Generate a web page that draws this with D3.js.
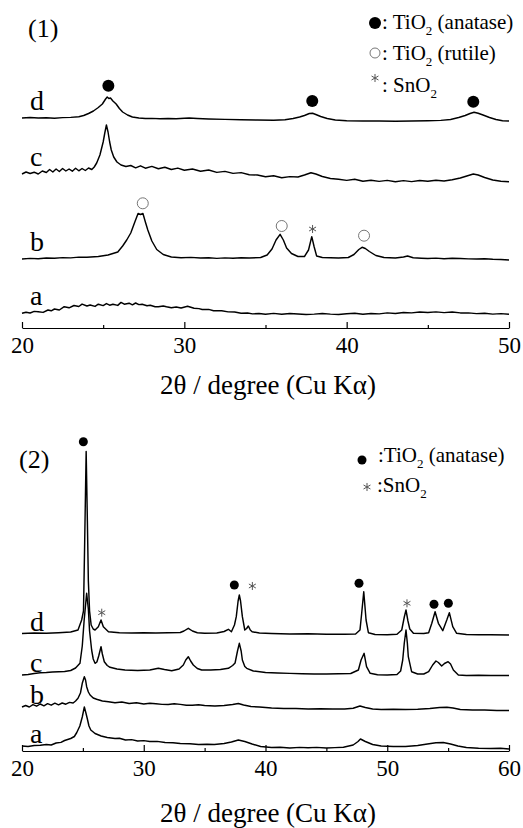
<!DOCTYPE html>
<html>
<head>
<meta charset="utf-8">
<script src="https://cdn.jsdelivr.net/npm/d3@7"></script>
<style>
body { margin: 0; background: #fff; }
</style>
</head>
<body>
<div id="svg-area"></div>
<script>
// sample labels, bottom to top
const sampleNames = ["a", "b", "c", "d"];

// ---- panel (1): 2theta 20-50, stacked intensity (a.u.) ----
const p1Ticks = [20, 30, 40, 50];
const p1Minor = [25, 35, 45];

const p1_a = [[20,14.7],[20.25,15.8],[20.5,15],[20.75,16.6],[21,16.2],[21.3,15.6],[21.6,18],[21.8,17.2],[22,19],[22.3,18],[22.6,21.3],[22.9,20.2],[23.2,22.5],[23.5,21.5],[23.7,23.9],[24,22],[24.2,23],[24.5,21.6],[24.7,23.8],[25,22.4],[25.2,24.4],[25.4,22.8],[25.6,23.8],[25.9,22.6],[26.1,25.6],[26.3,23.8],[26.6,24.8],[26.8,23.2],[27,25],[27.2,23.4],[27.4,23.8],[27.7,22.2],[27.9,22.8],[28.2,21.2],[28.4,21.2],[28.7,22],[28.9,21.2],[29.2,20.2],[29.5,21],[29.8,20],[30.2,21.7],[30.6,19.8],[30.9,19.4],[31.1,18.5],[31.5,18.6],[31.8,17.3],[32.3,17.2],[32.7,16.1],[33.1,16],[33.5,14.8],[33.9,15],[34.2,14.1],[34.6,14.5],[35,13.8],[35.5,14.6],[36,13.7],[36.5,14.5],[37,14],[37.5,13.5],[38,13.9],[38.5,14.5],[39,13.9],[39.5,13.5],[40,14.3],[40.5,14.7],[41,13.7],[41.5,14.5],[42,14.1],[42.5,15.1],[43,14.5],[43.5,15.5],[44,15.1],[44.5,16],[45,15.5],[45.5,16.1],[46,15.4],[46.5,16],[47,15.1],[47.5,15.1],[48,14.4],[48.5,14.7],[49,13.9],[49.5,14.4],[50,13.7]];

const p1_b = [[20,69],[20.5,69.6],[21,69.3],[21.5,70],[22,69.8],[22.5,70.4],[23,70.1],[23.5,70.9],[24,70.8],[24.7,71.5],[25.3,73],[25.9,76],[26.2,82],[26.45,88],[26.7,95],[26.95,106],[27.15,114.5],[27.3,113.5],[27.45,114.5],[27.6,106],[27.75,98],[28,87],[28.3,78.5],[28.7,73.5],[29.2,71],[29.8,70.2],[30.4,70.6],[31,70],[31.5,70.3],[32,69.6],[32.5,70.1],[33,69.8],[33.5,70.3],[34,70],[34.7,70.5],[35.1,73],[35.4,79],[35.65,88],[35.9,93.7],[36.1,88],[36.3,80],[36.6,74.5],[37,71.5],[37.4,71.5],[37.65,78],[37.85,91.3],[38,81],[38.15,72],[38.5,70.5],[39,70.2],[39.5,70],[40.1,70.5],[40.45,73.5],[40.75,78.5],[40.95,80.7],[41.15,79.5],[41.4,76.5],[41.8,72.5],[42.3,70.5],[43,70],[43.5,71],[43.75,72],[44.1,70.2],[44.6,69.8],[45,69.5],[45.5,69.9],[46,69.2],[46.5,69.7],[47,69.5],[47.5,69.1],[48,69],[48.5,69.3],[49,68.7],[49.5,68.5],[50,68]];

const p1_c = [[20,154],[20.25,156],[20.5,154.5],[20.75,155.8],[21,154],[21.25,157],[21.5,155.5],[21.7,158.5],[21.9,156],[22.1,159],[22.3,156.5],[22.5,159.5],[22.7,157],[22.9,159],[23.1,156.8],[23.3,159.8],[23.5,157.2],[23.7,159.5],[23.9,157.5],[24.1,160],[24.3,158.5],[24.45,161],[24.6,165],[24.8,173],[25,186],[25.1,195],[25.2,203],[25.3,196],[25.4,186],[25.5,178],[25.65,171],[25.85,166],[26.1,163],[26.4,161.5],[26.7,162.5],[27,160.2],[27.3,162.2],[27.6,159.8],[28,161.6],[28.4,159.2],[28.8,160.8],[29.2,158.5],[29.6,159.9],[30,157.8],[30.5,159],[31,156.8],[31.5,158],[32,155.6],[32.5,156.6],[33,154.6],[33.5,155.4],[34,153.3],[34.5,153],[35,151.3],[35.5,152.2],[36,150.3],[36.5,151.4],[37,151],[37.4,153],[37.8,155.3],[38.1,154],[38.5,151.5],[39,149.5],[39.5,148.8],[40,147.6],[40.5,148.7],[41,146.8],[41.5,147.8],[42,146.6],[42.5,147.6],[43,146.3],[43.5,147.4],[44,146.4],[44.5,147.5],[45,146.8],[45.5,147.8],[46,147],[46.5,148.2],[47,150],[47.4,152],[47.8,154],[48.1,153],[48.5,150.5],[49,148],[49.5,146.8],[50,146.3]];

const p1_d = [[20,210],[20.5,210.5],[21,210],[21.5,210.3],[22,209.8],[22.5,210.4],[23,210.6],[23.5,211.2],[23.8,212.5],[24.1,214.5],[24.4,217],[24.7,220.5],[24.95,224],[25.15,229],[25.25,231],[25.35,229.5],[25.45,230],[25.6,227],[25.8,224],[26,219.5],[26.2,216],[26.5,213],[26.8,211],[27.2,210],[27.6,209.5],[28,209.6],[28.5,209.3],[29,209.5],[29.5,209.2],[30,209.8],[30.3,210],[30.8,209.5],[31.5,209],[32.5,208.6],[33.5,208.3],[34.5,208],[35.5,207.8],[36.2,208.3],[36.7,209.5],[37.1,211],[37.4,212.5],[37.7,214.5],[37.9,214.7],[38.1,213.5],[38.4,211.5],[38.8,209.5],[39.3,208],[40,207.3],[41,207],[42,207],[43,206.8],[44,207],[45,207.2],[45.8,207.6],[46.4,208.5],[46.9,210.5],[47.3,212.5],[47.6,214.5],[47.85,215.7],[48.1,214.8],[48.4,213],[48.8,210.5],[49.2,208.5],[49.6,207.3],[50,207]];

// phase markers: [2theta, intensity]
const p1Anatase = [[25.32,242.3],[37.88,227],[47.8,226.3]];
const p1Rutile = [[27.44,124.7],[36.0,102],[41.07,92.3]];
const p1SnO2 = [[37.9,99]];

// ---- panel (2): 2theta 20-60 ----
const p2Ticks = [20, 30, 40, 50, 60];
const p2Minor = [25, 35, 45, 55];

const p2_a = [[20,5],[20.5,4.5],[21,5.5],[21.5,5.8],[22,6.5],[22.4,6],[22.8,8],[23.2,8.6],[23.5,10.5],[24,12.5],[24.3,14.5],[24.5,18.5],[24.75,25],[24.95,34],[25.12,44],[25.25,38],[25.35,33],[25.5,25],[25.65,21],[26,17.5],[26.5,15],[27,13.5],[27.64,12.5],[28,12.8],[28.5,11],[29,11.4],[29.5,10],[30,10.4],[30.5,9.5],[31.1,9.6],[31.75,8.5],[32.4,8.2],[33,7.5],[33.8,7.2],[34.5,6.5],[35.2,6.8],[35.8,6.5],[36.6,7.5],[37.2,9],[37.77,11],[38.3,9.5],[38.9,7],[39.6,4.5],[40.5,3.5],[41.2,3.8],[42,3],[42.8,3.6],[43.5,3.2],[44.2,3.6],[45,3],[45.7,3.4],[46.4,3.8],[47.2,6],[47.6,9.5],[47.8,12],[48.2,9.5],[48.8,6.5],[49.5,5],[50.5,4.5],[51.5,4.5],[52.5,5.5],[53.3,7],[54,8.3],[54.6,8.5],[55.2,7],[55.8,5],[56.5,3.5],[57.5,2.8],[58.5,2.5],[59.3,2.8],[60,2]];

const p2_b = [[20,44],[20.3,45.5],[20.6,44],[20.9,46.3],[21.2,44.8],[21.5,47],[21.8,45.2],[22.1,47.3],[22.4,45.8],[22.7,47.8],[23,46.2],[23.3,48],[23.6,46.8],[23.9,48.6],[24.2,48],[24.4,50],[24.6,52.7],[24.8,58],[24.95,67.7],[25.12,74.3],[25.22,71],[25.31,64.3],[25.45,59],[25.59,56],[25.85,53],[26.13,51.7],[26.6,50],[27.1,49.3],[27.64,48.3],[28.2,49],[28.8,47.5],[29.4,48.3],[30,47],[30.5,47.8],[31,47.2],[31.5,46.6],[32,46.5],[32.5,47.2],[33,46.6],[33.5,45.8],[34,45.8],[34.5,46.2],[35,45.5],[35.85,45],[36.6,45.5],[37.3,46.5],[37.77,47.5],[38.2,46],[38.8,44.5],[39.5,44],[40.5,43],[41.5,42.5],[42.5,42.5],[43.5,42],[44.5,42.3],[45.5,42],[46.5,42],[47.2,42.8],[47.76,45],[48.2,43.5],[48.8,42],[49.5,41.5],[50.5,41.8],[51.5,41.5],[52.5,41.8],[53.5,42.5],[54.3,43.5],[54.9,43.8],[55.4,43],[56,41.5],[57,41],[58,41],[59,40.5],[60,40.5]];

const p2_c = [[20,76],[20.5,76.5],[21,77.5],[21.5,78.2],[22,78.5],[22.5,79],[23,79.3],[23.5,79.5],[24,80.5],[24.4,83],[24.76,87.7],[24.95,105],[25.1,130],[25.31,157.7],[25.45,142],[25.55,120],[25.72,101],[25.85,92],[26,87.7],[26.15,89],[26.3,95],[26.49,104.3],[26.6,97],[26.76,89.3],[27,85.5],[27.23,83.7],[27.8,82],[28.46,81],[29.5,80.5],[30.5,81],[31.2,82.7],[31.7,81.5],[32.3,80.3],[32.9,82],[33.25,86],[33.45,91],[33.66,94.3],[33.85,90],[34.07,86],[34.4,82.5],[34.76,81],[35.5,81],[36.3,81.5],[36.95,82.7],[37.3,85.5],[37.5,88],[37.7,100],[37.85,107.7],[38,100],[38.1,91],[38.3,84.5],[38.46,82.7],[39,80],[40,78.5],[41,78],[42,77.6],[43,77.3],[44,77],[45,77],[46,77.2],[47,77.5],[47.63,81],[47.85,91],[48.1,97.7],[48.3,84.3],[48.6,77.7],[49.2,76.3],[50,76],[50.8,76.5],[51.1,80],[51.27,91],[51.4,108],[51.54,121],[51.65,108],[51.73,94.3],[52,79.3],[52.5,77],[53,77],[53.4,79.3],[53.73,86],[54,90],[54.2,88.5],[54.47,85],[54.7,87.5],[55,89.3],[55.2,87],[55.43,81],[55.84,76],[56.5,75.5],[57.5,75.8],[58.5,75.5],[60,75.5]];

const p2_d = [[20,117.5],[21,118],[22,117.7],[23,118.3],[24,119],[24.6,121],[24.9,131],[25.05,140],[25.15,210],[25.27,299.5],[25.37,230],[25.45,170],[25.55,140],[25.68,126],[25.85,122],[26,121],[26.27,124.3],[26.49,131],[26.68,124.3],[27.1,119.3],[28,118.3],[29,118],[30,118.3],[31,118],[32,118.2],[33,118.5],[33.3,120],[33.66,122.7],[34,120],[34.4,118.3],[35,117.7],[36,118],[36.6,119.5],[36.95,121.7],[37.2,119.3],[37.45,126],[37.6,134.3],[37.75,150],[37.85,156],[37.95,150],[38.1,134.3],[38.3,121],[38.45,122.5],[38.59,125],[38.75,121],[38.9,119.3],[39.5,118],[40.5,117.5],[42,117],[43.5,117.2],[45,116.8],[46.5,116.7],[47.4,117],[47.76,121],[47.9,137.7],[48.07,159.3],[48.26,131],[48.45,118.3],[49,116.5],[50,116.2],[50.8,116.8],[51.19,121],[51.4,134],[51.54,141],[51.7,130],[51.85,122],[52.15,117.7],[53,117.5],[53.4,118.3],[53.66,127.7],[53.93,139.3],[54.2,127.7],[54.56,120.3],[54.89,131],[55.1,138.3],[55.38,124.3],[55.7,117.7],[56.5,116.5],[57.5,116.3],[58.5,116.2],[60,116]];

const p2Anatase = [[25.04,309.3],[37.44,166],[47.68,167.7],[53.84,146.7],[55.02,147.7]];
const p2SnO2 = [[26.55,138.3],[38.92,165],[51.62,147.7]];

const svgWidth = 523
const svgHeight = 828
const serif = '"Liberation Serif"'

let svg = d3.select("#svg-area")
    .append("svg")
    .attr("width", svgWidth)
    .attr("height", svgHeight)
    .style("font-family", serif)

// text with a subscript 2 in the middle
function subText(g, x, y, size, before, after) {
    let t = g.append("text")
        .attr("x", x)
        .attr("y", y)
        .attr("font-size", size)
        .style("font-family", serif)
    t.append("tspan").text(before)
    t.append("tspan").attr("dy", 6).attr("font-size", size * 0.62).text("2")
    t.append("tspan").attr("dy", -6).text(after)
}

function drawPanel(p) {
    let x = d3.scaleLinear().domain(p.domain).range([22, 509])
    let y = d3.scaleLinear().domain([0, 320]).range([p.axisY, p.axisY - 320])
    let g = svg.append("g")

    // axis, ticks point up
    g.append("g")
        .attr("transform", `translate(0,${p.axisY})`)
        .call(d3.axisBottom(x).tickValues(p.ticks).tickSize(-6).tickSizeOuter(0).tickPadding(9))
        .call(a => a.selectAll("text").attr("font-size", 23).style("font-family", serif))
        .call(a => a.selectAll("line,path").attr("stroke", "#000").attr("stroke-width", 1.2))
    g.append("g")
        .attr("transform", `translate(0,${p.axisY})`)
        .call(d3.axisBottom(x).tickValues(p.minor).tickSize(-3).tickFormat(""))
        .call(a => a.select(".domain").remove())
        .call(a => a.selectAll("line").attr("stroke", "#000").attr("stroke-width", 1.2))

    let line = d3.line().x(d => x(d[0])).y(d => y(d[1]))
    p.traces.forEach((tr, i) => {
        g.append("path")
            .datum(tr)
            .attr("fill", "none")
            .attr("stroke", "#000")
            .attr("stroke-width", 1.45)
            .attr("stroke-linejoin", "round")
            .attr("d", line)
        g.append("text")
            .attr("x", 30)
            .attr("y", y(tr[0][1]) - p.labelGap)
            .attr("font-size", p.labelSize)
            .style("font-family", serif)
            .text(sampleNames[i])
    })

    g.selectAll("circle.ana")
        .data(p.anatase)
        .enter()
        .append("circle")
        .attr("cx", d => x(d[0]))
        .attr("cy", d => y(d[1]))
        .attr("r", p.dot)
        .attr("fill", "#000")
    g.selectAll("circle.rut")
        .data(p.rutile)
        .enter()
        .append("circle")
        .attr("cx", d => x(d[0]))
        .attr("cy", d => y(d[1]))
        .attr("r", 5.5)
        .attr("fill", "#fff")
        .attr("stroke", "#777")
        .attr("stroke-width", 1)
    g.selectAll("path.sn")
        .data(p.sno2)
        .enter()
        .append("path")
        .attr("transform", d => `translate(${x(d[0])},${y(d[1])})`)
        .attr("d", d3.symbol(d3.symbolAsterisk).size(45))
        .attr("stroke", "#555")
        .attr("stroke-width", 1)

    g.append("text")
        .attr("x", p.titleX)
        .attr("y", p.titleY)
        .attr("font-size", 26)
        .style("font-family", serif)
        .text(p.title)
    g.append("text")
        .attr("x", 268)
        .attr("y", p.xlabelY)
        .attr("text-anchor", "middle")
        .attr("font-size", 27)
        .style("font-family", serif)
        .text("2θ / degree (Cu Kα)")
    return g
}

let g1 = drawPanel({
    domain: [20, 50], ticks: p1Ticks, minor: p1Minor, axisY: 328,
    traces: [p1_a, p1_b, p1_c, p1_d], labelGap: 8, labelSize: 28,
    anatase: p1Anatase, rutile: p1Rutile, sno2: p1SnO2, dot: 6,
    title: "(1)", titleX: 28, titleY: 37, xlabelY: 394
})

let g2 = drawPanel({
    domain: [20, 60], ticks: p2Ticks, minor: p2Minor, axisY: 751,
    traces: [p2_a, p2_b, p2_c, p2_d], labelGap: 3, labelSize: 28,
    anatase: p2Anatase, rutile: [], sno2: p2SnO2, dot: 4.5,
    title: "(2)", titleX: 19, titleY: 468, xlabelY: 822
})

// legend (1)
g1.append("circle").attr("cx", 375).attr("cy", 23).attr("r", 6).attr("fill", "#000")
subText(g1, 382, 29, 21, ": TiO", " (anatase)")
g1.append("circle").attr("cx", 375).attr("cy", 53).attr("r", 5).attr("fill", "#fff").attr("stroke", "#777")
subText(g1, 382, 60, 21, ": TiO", " (rutile)")
g1.append("path").attr("transform", "translate(375,78)")
    .attr("d", d3.symbol(d3.symbolAsterisk).size(45)).attr("stroke", "#555")
subText(g1, 382, 92, 21, ": SnO", "")

// legend (2)
g2.append("circle").attr("cx", 362).attr("cy", 460).attr("r", 4.5).attr("fill", "#000")
subText(g2, 378, 462, 21, ":TiO", " (anatase)")
g2.append("path").attr("transform", "translate(367,487)")
    .attr("d", d3.symbol(d3.symbolAsterisk).size(45)).attr("stroke", "#555")
subText(g2, 377, 492, 21, ":SnO", "")
</script>
</body>
</html>
